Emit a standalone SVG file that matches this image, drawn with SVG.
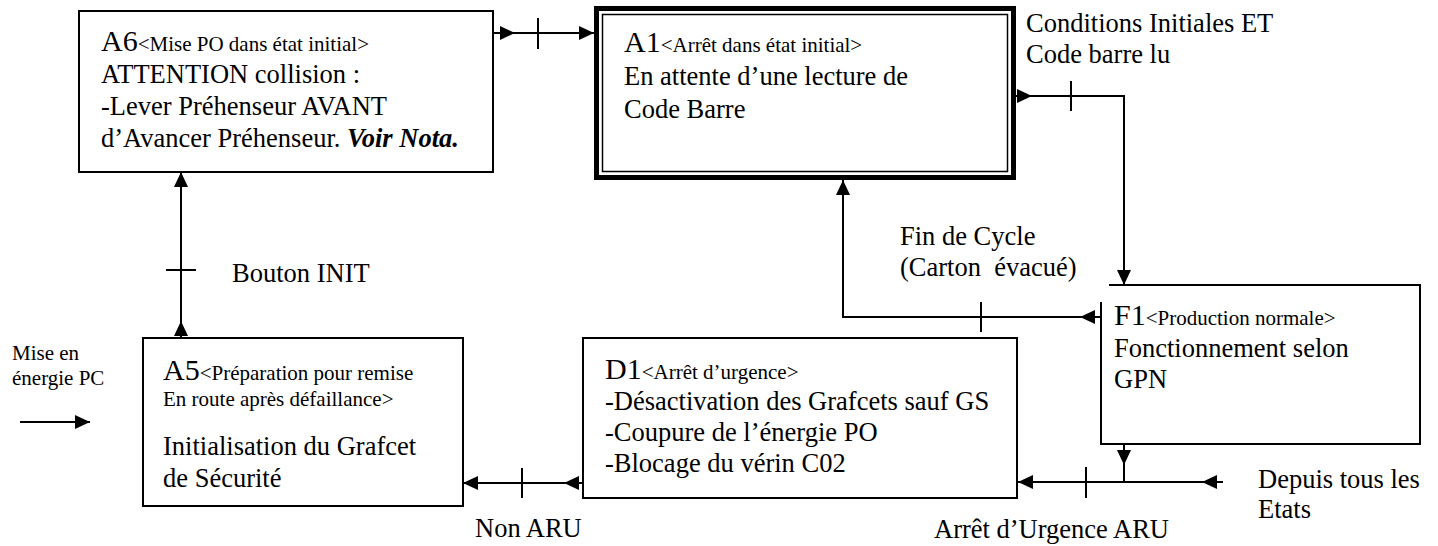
<svg xmlns="http://www.w3.org/2000/svg" xmlns:xlink="http://www.w3.org/1999/xlink" width="1438" height="546" viewBox="0 0 1438 546">
  <style>
    .box{fill:#fff;stroke:#000;stroke-width:2}
    .ln{fill:none;stroke:#000;stroke-width:2}
    .tick{fill:none;stroke:#000;stroke-width:2}
    text{font-family:"Liberation Serif","Times New Roman",serif;fill:#000}
    .b{font-size:26.5px}
    .big{font-size:30px}
    .sm{font-size:21px}
    .bi{font-weight:bold;font-style:italic}
  </style>
  <defs>
    <!-- filled arrowhead, tip at origin, pointing along +x -->
    <path id="ah" d="M0,0 L-15,-7 L-15,7 Z" fill="#000"/>
  </defs>
  <rect width="1438" height="546" fill="#fff"/>

  <!-- connectors -->
  <g id="connectors">
    <path class="ln" d="M493,33 H594"/>
    <path class="ln" d="M1016,96 H1124 V285"/>
    <path class="ln" d="M1101,317 H843 V180"/>
    <path class="ln" d="M1124,444 V482"/>
    <path class="ln" d="M1223,482 H1018"/>
    <path class="ln" d="M583,483 H463"/>
    <path class="ln" d="M181,338 V172"/>
    <path class="ln" d="M20,422 H90"/>
    <!-- transition bars -->
    <path class="tick" d="M538,18 V49"/>
    <path class="tick" d="M1071,81 V111"/>
    <path class="tick" d="M981,302 V332"/>
    <path class="tick" d="M1086,467 V498"/>
    <path class="tick" d="M522,468 V498"/>
    <path class="tick" d="M166,270 H196"/>
    <!-- arrowheads -->
    <use xlink:href="#ah" transform="translate(515,33)"/>
    <use xlink:href="#ah" transform="translate(594,33)"/>
    <use xlink:href="#ah" transform="translate(1032,96)"/>
    <use xlink:href="#ah" transform="translate(1124,285) rotate(90)"/>
    <use xlink:href="#ah" transform="translate(1080,317) rotate(180)"/>
    <use xlink:href="#ah" transform="translate(843,180) rotate(-90)"/>
    <use xlink:href="#ah" transform="translate(1124,465) rotate(90)"/>
    <use xlink:href="#ah" transform="translate(1202,482) rotate(180)"/>
    <use xlink:href="#ah" transform="translate(1018,482) rotate(180)"/>
    <use xlink:href="#ah" transform="translate(564,483) rotate(180)"/>
    <use xlink:href="#ah" transform="translate(463,483) rotate(180)"/>
    <use xlink:href="#ah" transform="translate(181,321) rotate(-90)"/>
    <use xlink:href="#ah" transform="translate(181,172) rotate(-90)"/>
    <use xlink:href="#ah" transform="translate(90,422)"/>
  </g>

  <!-- connector labels -->
  <g id="labels" class="b">
    <text x="1026" y="32">Conditions Initiales ET</text>
    <text x="1026" y="63">Code barre lu</text>
    <text x="900" y="245">Fin de Cycle</text>
    <text x="900" y="276">(Carton&#160; évacué)</text>
    <text x="232" y="282">Bouton INIT</text>
    <text x="475" y="537">Non ARU</text>
    <text x="934" y="538">Arrêt d’Urgence ARU</text>
    <text x="1258" y="488">Depuis tous les</text>
    <text x="1258" y="518">Etats</text>
    <text class="sm" x="12" y="360">Mise en</text>
    <text class="sm" x="12" y="385">énergie PC</text>
  </g>

  <!-- A6 -->
  <g id="A6">
    <rect class="box" x="79" y="11" width="414" height="161"/>
    <text class="b" x="101" y="51"><tspan class="big">A6</tspan><tspan class="sm">&lt;Mise PO dans état initial&gt;</tspan></text>
    <text class="b" x="101" y="83">ATTENTION collision :</text>
    <text class="b" x="101" y="115">-Lever Préhenseur AVANT</text>
    <text class="b" x="101" y="147">d’Avancer Préhenseur. <tspan class="bi">Voir Nota.</tspan></text>
  </g>

  <!-- A1 (initial step, double frame) -->
  <g id="A1">
    <rect x="596.5" y="8.5" width="417" height="169" fill="#fff" stroke="#000" stroke-width="5"/>
    <rect x="602.5" y="14.5" width="405" height="157" fill="none" stroke="#000" stroke-width="1.5"/>
    <text class="b" x="624" y="52"><tspan class="big">A1</tspan><tspan class="sm">&lt;Arrêt dans état initial&gt;</tspan></text>
    <text class="b" x="624" y="85">En attente d’une lecture de</text>
    <text class="b" x="624" y="118">Code Barre</text>
  </g>

  <!-- F1 -->
  <g id="F1">
    <path d="M1101,285 H1420 V444 H1101 Z" fill="#fff"/>
    <path class="ln" d="M1109,285 H1420 V444 H1101 V302"/>
    <text class="b" x="1114" y="325"><tspan class="big">F1</tspan><tspan class="sm">&lt;Production normale&gt;</tspan></text>
    <text class="b" x="1114" y="357">Fonctionnement selon</text>
    <text class="b" x="1114" y="388">GPN</text>
  </g>

  <!-- D1 -->
  <g id="D1">
    <rect class="box" x="583" y="338" width="434" height="160"/>
    <text class="b" x="605" y="379"><tspan class="big">D1</tspan><tspan class="sm">&lt;Arrêt d’urgence&gt;</tspan></text>
    <text class="b" x="605" y="410">-Désactivation des Grafcets sauf GS</text>
    <text class="b" x="605" y="441">-Coupure de l’énergie PO</text>
    <text class="b" x="605" y="472">-Blocage du vérin C02</text>
  </g>

  <!-- A5 -->
  <g id="A5">
    <rect class="box" x="143" y="338" width="320" height="168"/>
    <text class="b" x="163" y="380"><tspan class="big">A5</tspan><tspan class="sm">&lt;Préparation pour remise</tspan></text>
    <text class="sm" x="163" y="406">En route après défaillance&gt;</text>
    <text class="b" x="163" y="455">Initialisation du Grafcet</text>
    <text class="b" x="163" y="487">de Sécurité</text>
  </g>
</svg>
